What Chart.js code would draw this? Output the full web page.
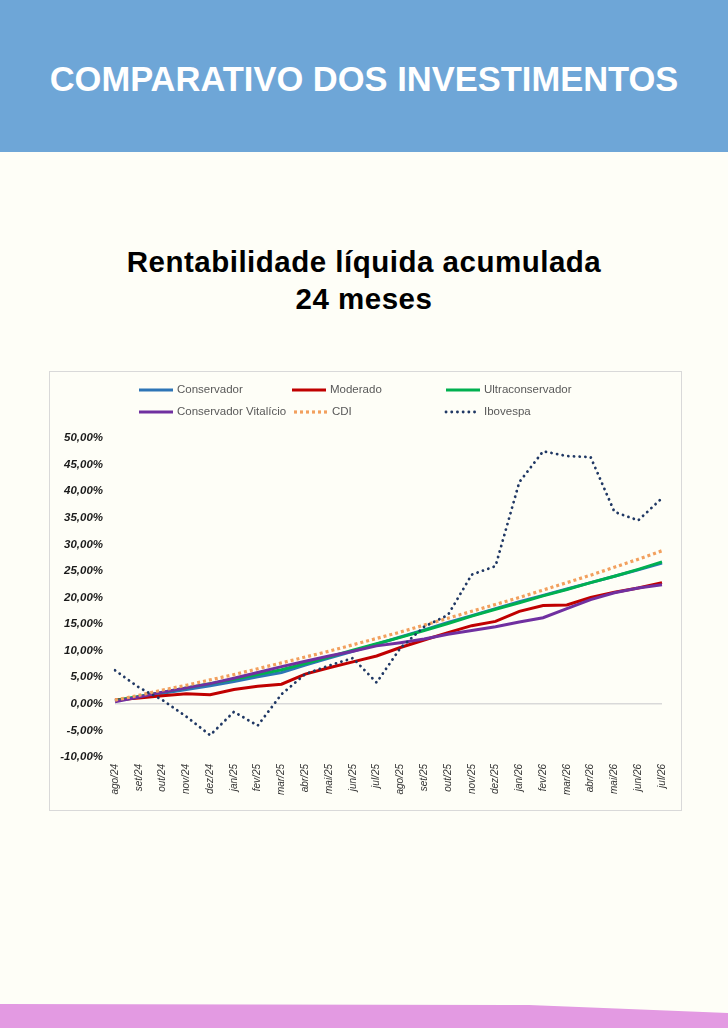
<!DOCTYPE html>
<html lang="pt">
<head>
  <meta charset="UTF-8">
  <title>Comparativo dos investimentos</title>
  <style>
    body { margin: 0; width: 728px; height: 1028px; background: #fefef7; position: relative; overflow: hidden; font-family: "Liberation Sans", Arial, sans-serif; }
    .header { position: absolute; left: 0; top: 0; width: 728px; height: 152px; background: #6ea6d7; }
    .header h1 { margin: 0; padding-top: 3px; line-height: 152px; text-align: center; color: #fff; font-size: 34.5px; font-weight: 700; }
    .subtitle { position: absolute; left: 0; top: 243px; width: 728px; text-align: center; font-size: 29.5px; letter-spacing: 0.5px; line-height: 37px; font-weight: 700; color: #000; }
    .chartBox { position: absolute; left: 49px; top: 371px; width: 633px; height: 440px; border: 1px solid #d9d9d9; box-sizing: border-box; }
    .footerBand { position: absolute; left: 0; top: 1000px; width: 728px; height: 28px; background: #e39ae2; clip-path: polygon(0 4px, 529px 5px, 728px 13px, 728px 28px, 0 28px); }
  </style>
</head>
<body>
  <div class="header"><h1>COMPARATIVO DOS INVESTIMENTOS</h1></div>
  <div class="subtitle">Rentabilidade líquida acumulada<br>24 meses</div>
  <div class="chartBox">
    <canvas id="myChart"></canvas>
  </div>
  <div class="footerBand"></div>

  <script src="https://cdn.jsdelivr.net/npm/chart.js"></script>
  <script>
    const meses = ['ago/24','set/24','out/24','nov/24','dez/24','jan/25','fev/25','mar/25','abr/25','mai/25','jun/25','jul/25',
                   'ago/25','set/25','out/25','nov/25','dez/25','jan/26','fev/26','mar/26','abr/26','mai/26','jun/26','jul/26']

    const conservador = [0.6,1.3,2.0,2.7,3.4,4.2,5.1,5.9,7.3,8.6,9.9,11.2,12.6,13.9,15.3,16.6,17.9,19.2,20.4,21.6,22.8,24.0,25.2,26.5]
    const moderado = [0.7,1.1,1.5,1.9,1.7,2.7,3.3,3.7,5.6,6.8,7.9,9.0,10.6,12.0,13.4,14.7,15.5,17.4,18.5,18.6,20.0,21.0,21.8,22.8]
    const ultraconservador = [0.6,1.4,2.2,3.0,3.8,4.6,5.5,6.4,7.6,8.8,10.1,11.3,12.5,13.8,15.1,16.5,17.8,19.0,20.3,21.5,22.8,24.0,25.3,26.7]
    const vitalicio = [0.4,1.3,2.2,3.0,3.8,4.8,5.9,7.0,8.0,9.0,9.9,10.9,11.5,12.2,13.1,13.8,14.5,15.4,16.2,17.9,19.6,20.9,21.8,22.4]
    const cdi = [0.7,1.6,2.6,3.5,4.5,5.5,6.6,7.7,8.8,9.9,11.1,12.3,13.5,14.8,16.1,17.4,18.7,20.0,21.4,22.8,24.2,25.7,27.2,28.8]
    const ibovespa = [6.3,3.1,0.7,-2.4,-5.9,-1.5,-4.1,1.8,5.6,7.2,8.6,4.0,10.5,14.5,16.7,24.3,25.9,41.7,47.5,46.6,46.4,36.1,34.5,38.7]

    // excel-like legend: fixed slots, 2 rows
    const legendSlots = [[89, 18], [242, 18], [396, 18], [89, 40], [244, 40], [396, 40]]

    const excelLegend = {
      id: 'excelLegend',
      afterDraw(chart) {
        const ctx = chart.ctx
        ctx.save()
        chart.data.datasets.forEach((ds, i) => {
          const [x, y] = legendSlots[i]
          ctx.beginPath()
          ctx.strokeStyle = ds.borderColor
          ctx.lineWidth = ds.borderWidth
          ctx.lineCap = ds.borderCapStyle || 'butt'
          ctx.setLineDash(ds.borderDash || [])
          ctx.moveTo(x, y)
          ctx.lineTo(x + 34, y)
          ctx.stroke()
          ctx.setLineDash([])
          ctx.fillStyle = '#595959'
          ctx.font = '11.5px "Liberation Sans", Arial, sans-serif'
          ctx.textBaseline = 'middle'
          ctx.fillText(ds.label, x + 38, y)
        })
        ctx.restore()
      }
    }

    const data = {
      labels: meses,
      datasets: [
        { label: 'Conservador', data: conservador, borderColor: '#2e75b6', borderWidth: 3, order: 6 },
        { label: 'Moderado', data: moderado, borderColor: '#c00000', borderWidth: 3, order: 5 },
        { label: 'Ultraconservador', data: ultraconservador, borderColor: '#00b050', borderWidth: 3, order: 4 },
        { label: 'Conservador Vitalício', data: vitalicio, borderColor: '#7030a0', borderWidth: 3, order: 3 },
        { label: 'CDI', data: cdi, borderColor: '#f2a05e', borderWidth: 3.2, borderDash: [3, 3], order: 2 },
        { label: 'Ibovespa', data: ibovespa, borderColor: '#203864', borderWidth: 2.8, borderDash: [0.1, 5.6], borderCapStyle: 'round', order: 1 }
      ]
    }

    const config = {
      type: 'line',
      data: data,
      options: {
        responsive: true,
        maintainAspectRatio: false,
        animation: false,
        layout: { padding: { top: 66, left: 10, right: 17, bottom: 0 } },
        elements: { point: { radius: 0 }, line: { tension: 0 } },
        plugins: { legend: { display: false }, tooltip: { enabled: false } },
        scales: {
          x: {
            offset: false,
            grid: { display: false, drawTicks: false },
            border: { display: false },
            ticks: {
              autoSkip: false, maxRotation: 90, minRotation: 90, padding: 7,
              color: '#333333',
              font: { family: '"Liberation Sans", Arial, sans-serif', size: 10, style: 'italic' }
            },
            afterFit(scale) { scale.height = 53 }
          },
          y: {
            min: -10, max: 50,
            border: { display: false },
            grid: {
              drawTicks: false,
              color: ctx => ctx.tick && ctx.tick.value === 0 ? '#d9d9d9' : 'rgba(0,0,0,0)',
              lineWidth: 1.5
            },
            ticks: {
              stepSize: 5, padding: 12,
              color: '#1a1a1a',
              font: { family: '"Liberation Sans", Arial, sans-serif', size: 11.5, style: 'italic', weight: 'bold' },
              callback: v => v.toFixed(2).replace('.', ',') + '%'
            },
            afterFit(scale) { scale.width = 55 }
          }
        }
      },
      plugins: [excelLegend]
    }

    const myChart = new Chart(document.getElementById('myChart'), config)
  </script>
</body>
</html>
